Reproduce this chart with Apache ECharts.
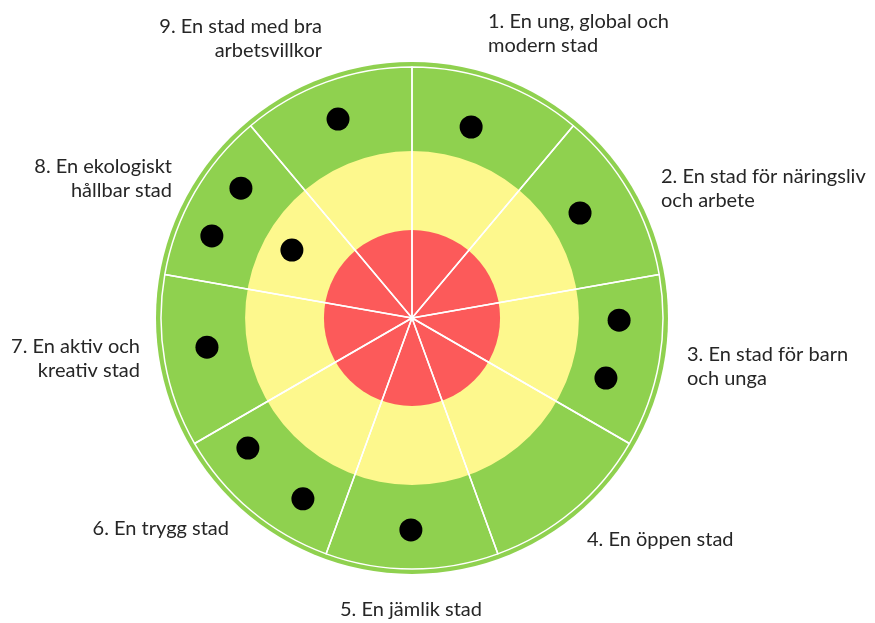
<!DOCTYPE html>
<html><head><meta charset="utf-8">
<script src="https://cdn.jsdelivr.net/npm/echarts@6/dist/echarts.min.js"></script>
<style>html,body{margin:0;padding:0;background:#fff}#c{width:875px;height:623px}</style>
</head><body><div id="c"></div>
<script>
// ---- data ----
const categories = [
  '1. En ung, global och\nmodern stad',
  '2. En stad för näringsliv\noch arbete',
  '3. En stad för barn\noch unga',
  '4. En öppen stad',
  '5. En jämlik stad',
  '6. En trygg stad',
  '7. En aktiv och\nkreativ stad',
  '8. En ekologiskt\nhållbar stad',
  '9. En stad med bra\narbetsvillkor'
];
const levelNames = ['Röd', 'Gul', 'Grön'];
const levelLimits = [34.4, 65.2, 100];          // outer edge of each ring (radius scale 0-100)
const dotRadius = [78.1, 77.4, 80.9, 79.3, 82.8, 81.8, 82.5, 80.9, 83.9, 84.5, 53.9, 82.9];
const dotAngle  = [17.2, 58.0, 90.6, 107.2, 180.3, 231.6, 211.1, 261.9, 307.2, 292.3, 299.5, 339.6];

// ---- layout / style ----
const CX = 412, CY = 318, R = 256, RIM = 251;
const levelColors = ['#fc5a5a', '#fdf88d', '#8fd14f'];
const labelLayout = [
  {x: 488, y: 10, align: 'left'},
  {x: 661, y: 165, align: 'left'},
  {x: 687, y: 343, align: 'left'},
  {x: 587, y: 528, align: 'left'},
  {x: 340, y: 598, align: 'left'},
  {x: 229, y: 517, align: 'right'},
  {x: 140, y: 335, align: 'right'},
  {x: 172, y: 155, align: 'right'},
  {x: 322, y: 15, align: 'right'}
];
const FONT = '20px Lato';

const chart = echarts.init(document.getElementById('c'));
const series = [];
for (let i = levelLimits.length - 1; i >= 0; i--) {
  series.push({
    type: 'pie', name: levelNames[i], center: [CX, CY],
    radius: [0, levelLimits[i] / 100 * R],
    silent: true, label: {show: false}, labelLine: {show: false},
    itemStyle: {color: levelColors[i]},
    data: [{value: 1, name: levelNames[i]}], z: 1
  });
}
series.push({
  type: 'pie', name: 'spokes', center: [CX, CY], radius: [0, RIM],
  startAngle: 90, clockwise: true, silent: true,
  label: {show: false}, labelLine: {show: false},
  itemStyle: {color: 'rgba(0,0,0,0)', borderColor: '#ffffff', borderWidth: 1.5},
  data: categories.map(c => ({value: 1, name: c})), z: 2
});
series.push({
  type: 'scatter', coordinateSystem: 'polar', symbol: 'circle', symbolSize: 23,
  itemStyle: {color: '#000', opacity: 1}, silent: true, z: 5,
  data: dotRadius.map((r, i) => [r, dotAngle[i]])
});

chart.setOption({
  animation: false,
  backgroundColor: '#fff',
  polar: {center: [CX, CY], radius: R},
  angleAxis: {type: 'value', min: 0, max: 360, startAngle: 90, clockwise: true, show: false},
  radiusAxis: {type: 'value', min: 0, max: 100, show: false},
  series: series,
  graphic: categories.map((c, i) => ({
    type: 'text', x: labelLayout[i].x, y: labelLayout[i].y, silent: true,
    style: {text: c, font: FONT, fill: '#262626', align: labelLayout[i].align,
            verticalAlign: 'top', lineHeight: 24}
  }))
});
</script></body></html>
